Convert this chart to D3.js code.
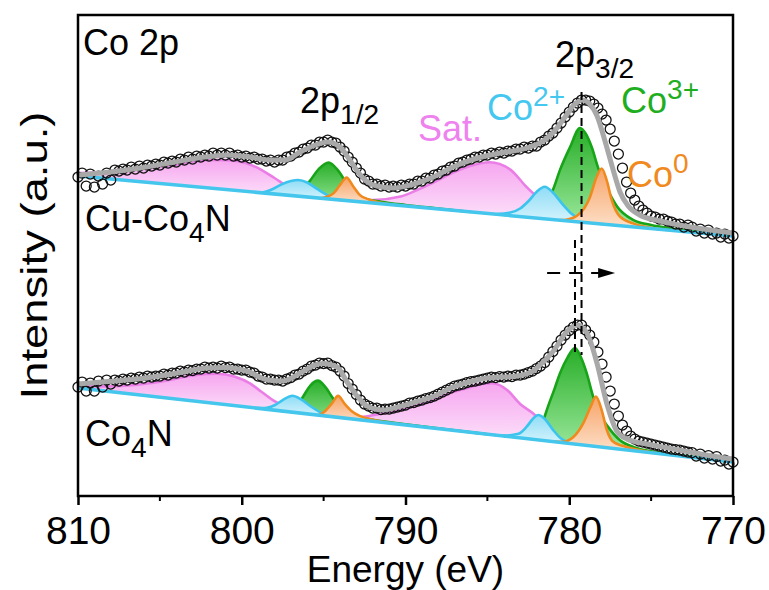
<!DOCTYPE html>
<html>
<head>
<meta charset="utf-8">
<script src="https://cdn.jsdelivr.net/npm/d3@7/dist/d3.min.js"></script>
<style>
  body { margin: 0; background: #fff; }
  text { font-family: "Liberation Sans", Arial, sans-serif; }
</style>
</head>
<body>
<div id="viz"></div>
<script>
const margin = {top: 15, right: 36, bottom: 94, left: 78};
const width = 769;
const height = 590;
const fontSize = 36;

// x axis
const energyDomain = [810, 770];
const majorTicks = [810, 800, 790, 780, 770];
const minorTicks = [805, 795, 785, 775];

// measured points, one every 0.25 eV from 810 down to 770
const energies = d3.range(810, 769.9, -0.25);
const cuData = [
  31.9, 32.3, 31.0, 32.2, 30.9, 32.0, 31.2, 32.3, 31.6, 32.6,
  32.5, 32.7, 32.6, 32.9, 32.7, 33.0, 32.8, 33.1, 33.0, 33.2,
  33.1, 33.4, 33.3, 33.5, 33.4, 33.7, 33.6, 33.9, 33.7, 34.0,
  33.9, 34.1, 34.0, 34.3, 34.1, 34.3, 34.1, 34.3, 34.0, 34.1,
  33.9, 34.0, 33.8, 33.9, 33.7, 33.7, 33.5, 33.6, 33.4, 33.6,
  33.6, 33.9, 34.0, 34.3, 34.4, 34.7, 34.8, 35.1, 35.1, 35.4,
  35.4, 35.6, 35.4, 35.3, 34.9, 34.5, 33.9, 33.4, 32.8, 32.3,
  31.7, 31.5, 31.2, 31.2, 31.0, 31.1, 30.9, 31.0, 30.9, 31.1,
  31.0, 31.2, 31.2, 31.5, 31.5, 31.8, 31.8, 32.1, 32.2, 32.5,
  32.6, 32.9, 33.0, 33.3, 33.4, 33.6, 33.7, 33.9, 33.9, 34.1,
  34.1, 34.3, 34.2, 34.4, 34.3, 34.5, 34.5, 34.7, 34.7, 34.9,
  34.8, 35.0, 35.0, 35.4, 35.6, 36.0, 36.3, 36.8, 37.3, 37.9,
  38.4, 38.9, 39.3, 39.6, 39.6, 39.5, 39.2, 38.8, 38.2, 37.6,
  36.7, 35.5, 34.2, 32.8, 31.4, 30.3, 29.6, 29.0, 28.6, 28.3,
  28.0, 27.9, 27.7, 27.7, 27.5, 27.4, 27.2, 27.2, 26.9, 27.1,
  26.9, 26.5, 26.7, 26.3, 26.6, 26.2, 26.3, 25.9, 26.2, 25.8,
  26.0];
const co4nData = [
  10.9, 11.4, 10.5, 11.3, 10.5, 11.5, 10.9, 11.6, 11.2, 11.6,
  11.5, 11.7, 11.6, 11.8, 11.7, 11.9, 11.8, 12.0, 11.9, 12.0,
  12.0, 12.2, 12.1, 12.3, 12.3, 12.5, 12.4, 12.6, 12.55, 12.7,
  12.7, 12.9, 12.8, 12.9, 12.8, 13.0, 12.85, 12.9, 12.7, 12.7,
  12.6, 12.6, 12.4, 12.3, 12.0, 11.9, 11.7, 11.7, 11.6, 11.6,
  11.5, 11.7, 11.85, 12.1, 12.2, 12.5, 12.7, 13.0, 13.1, 13.3,
  13.25, 13.3, 13.05, 12.9, 12.5, 12.0, 11.25, 10.7, 10.15, 9.6,
  9.2, 9.0, 8.8, 8.8, 8.65, 8.7, 8.7, 8.8, 8.9, 9.0,
  9.1, 9.3, 9.35, 9.5, 9.6, 9.75, 9.85, 10.0, 10.2, 10.4,
  10.6, 10.8, 11.0, 11.1, 11.2, 11.35, 11.45, 11.5, 11.6, 11.7,
  11.8, 11.9, 11.85, 11.95, 11.9, 12.0, 11.95, 12.1, 12.1, 12.2,
  12.35, 12.5, 12.75, 13.0, 13.35, 13.9, 14.45, 15.0, 15.6, 16.1,
  16.55, 16.9, 17.1, 17.1, 16.6, 16.1, 15.4, 14.4, 13.2, 11.9,
  10.5, 9.2, 8.0, 7.1, 6.5, 6.0, 5.7, 5.5, 5.4, 5.3,
  5.2, 5.1, 5.0, 4.9, 4.8, 4.7, 4.65, 4.6, 4.5, 4.4,
  4.35, 4.0, 4.2, 3.8, 4.05, 3.7, 3.95, 3.5, 3.6, 3.2,
  3.4];

// fitted envelopes [eV, a.u.]
const cuFit = [[810, 32.1], [808.05, 32.4], [806.2, 32.8], [804.1, 33.4], [802.25, 33.9],
  [800.85, 34.1], [799.5, 33.9], [798.3, 33.6], [797.35, 33.6], [796.45, 34.4],
  [795.5, 35.1], [794.75, 35.4], [794.0, 34.9], [793.4, 33.6], [792.9, 32.4],
  [792.4, 31.5], [791.75, 31.0], [790.75, 30.8], [789.7, 31.1], [788.3, 31.9],
  [787.1, 32.9], [785.6, 33.8], [784.2, 34.3], [782.6, 34.8], [781.5, 35.6],
  [780.9, 36.5], [780.3, 37.8], [779.65, 39.2], [779.2, 39.6], [778.75, 39.2],
  [778.3, 38.0], [777.8, 35.4], [777.3, 32.5], [776.9, 30.4], [776.4, 29.0],
  [775.7, 28.1], [774.45, 27.5], [772.6, 26.9], [770, 26.3]];
const co4nFit = [[810, 11.2], [808.17, 11.45], [806.09, 11.75], [804.08, 12.25], [802.06, 12.8],
  [801.02, 12.85], [799.62, 12.45], [798.4, 11.6], [797.54, 11.5], [796.32, 12.4],
  [795.53, 13.1], [795.04, 13.25], [794.18, 12.9], [793.57, 11.4], [792.96, 10.0],
  [792.35, 9.0], [791.37, 8.6], [790.34, 8.95], [789.3, 9.45], [788.32, 9.93],
  [787.28, 10.77], [786.24, 11.35], [785.02, 11.8], [783.19, 12.0], [782.21, 12.5],
  [781.79, 13.1], [780.99, 14.45], [780.14, 16.45], [779.53, 17.1], [778.92, 16.3],
  [778.31, 13.3], [777.7, 9.2], [777.1, 6.5], [776.49, 5.7], [775.27, 5.2],
  [773.85, 4.77], [771.83, 4.15], [770, 3.7]];

// backgrounds (end points, a.u.)
const cuBackground = [[810, 32.0], [770, 26.0]];
const co4nBackground = [[810, 10.8], [770, 3.4]];

// fitted components, height above background [eV, a.u.]
const cuSat1 = [[810, 0.3], [808.2, 0.7], [806.2, 1.4], [804.1, 2.0], [802.1, 2.8], [800.9, 2.95],
  [799.8, 2.85], [798.8, 2.3], [798.0, 1.6], [797.1, 0.8], [796.1, 0.3], [795.0, 0.1], [794.0, 0]];
const cuCo2p1 = [[798.8, 0], [798.2, 0.4], [797.6, 1.0], [797.0, 1.45], [796.55, 1.62], [796.0, 1.45],
  [795.4, 0.9], [794.8, 0.4], [794.2, 0.12], [793.5, 0]];
const cuCo3p1 = [[797.2, 0], [796.4, 0.6], [795.9, 1.5], [795.3, 2.9], [794.7, 3.65], [794.1, 2.9],
  [793.5, 1.5], [793.0, 0.7], [792.4, 0.35], [791.5, 0.2], [790, 0.1], [788, 0.05], [786, 0]];
const cuCo0p1 = [[795.2, 0], [794.8, 0.2], [794.4, 0.6], [794.0, 1.5], [793.6, 2.3], [793.2, 1.5],
  [792.8, 0.7], [792.2, 0.3], [791.5, 0.1], [790.5, 0]];
const cuSat3 = [[794.0, 0], [792.0, 0.3], [790.3, 0.9], [789.3, 1.7], [788.3, 2.6], [787.2, 3.7],
  [786.2, 4.5], [784.85, 5.15], [783.6, 4.6], [782.6, 3.0], [781.7, 1.8], [780.8, 0.9],
  [779.8, 0.3], [778.8, 0.05], [778, 0]];
const cuCo2p3 = [[784.5, 0], [783.6, 0.3], [783.0, 0.8], [782.5, 1.6], [782.0, 2.6], [781.5, 3.2],
  [781.0, 2.7], [780.4, 1.6], [779.9, 0.8], [779.4, 0.35], [778.8, 0.1], [778, 0]];
const cuCo3p3 = [[784.0, 0], [782.5, 0.4], [782.0, 0.8], [781.5, 1.7], [781.0, 2.95], [780.57, 5.0],
  [779.95, 7.4], [779.34, 9.4], [779.0, 8.9], [778.63, 7.6], [778.24, 5.6], [777.6, 3.3],
  [777.08, 1.9], [776.1, 0.7], [775, 0.35], [773.85, 0.2], [772, 0.14], [770, 0.1]];
const cuCo0p3 = [[780.6, 0], [780.2, 0.1], [779.45, 0.7], [778.73, 2.6], [778.32, 4.7], [778.02, 5.55],
  [777.71, 4.4], [777.41, 2.5], [776.9, 0.9], [776.1, 0.35], [774.9, 0.05], [774, 0]];

const co4nSat1 = [[810, 0.2], [808.2, 0.5], [806.4, 1.0], [805.1, 1.5], [804.1, 2.0], [802.9, 2.6],
  [801.5, 3.0], [800.4, 2.9], [799.5, 2.4], [798.8, 1.7], [798.0, 0.9], [797.1, 0.35], [796.1, 0.1], [794.5, 0]];
const co4nCo2p1 = [[799.2, 0], [798.6, 0.1], [798.0, 0.5], [797.5, 1.1], [796.9, 1.65], [796.4, 1.4],
  [795.8, 0.8], [795.2, 0.3], [794.6, 0.05], [794, 0]];
const co4nCo3p1 = [[797.6, 0], [797.2, 0.05], [796.7, 0.5], [796.25, 1.7], [795.8, 2.9], [795.35, 3.45],
  [794.9, 2.9], [794.45, 1.9], [794.0, 1.0], [793.5, 0.5], [793, 0.3], [792, 0.15], [790, 0.08], [787, 0.03], [785, 0]];
const co4nCo0p1 = [[795.3, 0], [794.9, 0.5], [794.5, 1.3], [794.12, 2.15], [793.7, 1.4], [793.3, 0.8],
  [792.8, 0.4], [792.2, 0.2], [791.5, 0.08], [790.5, 0]];
const co4nSat3 = [[794.0, 0], [792.6, 0.35], [791.4, 0.9], [790.3, 1.45], [789.3, 2.1], [788.3, 2.8],
  [787.3, 3.7], [786.2, 4.4], [785.3, 5.0], [784.7, 5.15], [783.8, 4.65], [783.0, 3.4], [782.2, 2.6],
  [781.4, 1.5], [780.6, 0.7], [779.8, 0.25], [779, 0.05], [778.2, 0]];
const co4nCo2p3 = [[784.6, 0], [784.0, 0.05], [783.1, 0.4], [782.6, 1.2], [782.2, 2.1], [781.9, 2.5],
  [781.5, 2.2], [781.0, 1.2], [780.5, 0.4], [780.0, 0.1], [779.3, 0]];
const co4nCo3p3 = [[784, 0], [783.0, 0.1], [782.2, 0.5], [781.7, 1.5], [781.3, 3.45], [780.9, 5.3],
  [780.57, 6.9], [780.1, 8.6], [779.65, 9.6], [779.3, 8.8], [778.93, 7.2], [778.55, 5.0], [778.1, 3.2],
  [777.63, 2.1], [776.9, 0.9], [776.0, 0.35], [774.9, 0.13], [772, 0.08], [770, 0.05]];
const co4nCo0p3 = [[781, 0], [780.4, 0.1], [779.75, 0.7], [779.14, 2.2], [778.7, 3.9], [778.37, 5.0],
  [778.02, 3.7], [777.71, 1.8], [777.33, 0.7], [776.5, 0.3], [775.5, 0.1], [774.5, 0]];

// 2p3/2 peak positions (eV) and the intensity span of the guide lines
const peakCu = 779.25;
const peakCo4n = 779.65;
const guideCu = [40.4, 14.1];
const guideCo4n = [25.6, 14.1];
const shiftArrow = {from: 781.35, to: 777.2, level: 22.3};

const colors = {
  sat: {line: '#ea7ee6', top: '#f6a6ef', bottom: '#fde6fb'},
  co2: {line: '#3cc4ee', top: '#8fdcf6', bottom: '#d9f5fd'},
  co3: {line: '#18a418', top: '#28ae28', bottom: '#a9efa9'},
  co0: {line: '#f08a1e', top: '#f7a468', bottom: '#fde2cc'}
};

const svg = d3.select('#viz')
  .append('svg')
  .attr('width', width)
  .attr('height', height)
  .attr('viewBox', [0, 0, width, height]);

const x = d3.scaleLinear()
  .domain(energyDomain)
  .range([margin.left, width - margin.right]);

const y = d3.scaleLinear()
  .domain([0, 48.1])
  .range([height - margin.bottom, margin.top]);

// gradients for the component fills
const defs = svg.append('defs');
Object.entries(colors).forEach(([key, c]) => {
  const g = defs.append('linearGradient')
    .attr('id', 'grad-' + key)
    .attr('x1', 0).attr('y1', 0).attr('x2', 0).attr('y2', 1);
  g.append('stop').attr('offset', '0%').attr('stop-color', c.top);
  g.append('stop').attr('offset', '100%').attr('stop-color', c.bottom);
});

const drawSpectrum = (background, comps, fit, data) => {
  const bg = d3.scaleLinear()
    .domain(background.map(d => d[0]))
    .range(background.map(d => d[1]));

  comps.forEach(([pts, key]) => {
    const area = d3.area()
      .x(d => x(d[0]))
      .y0(d => y(bg(d[0])))
      .y1(d => y(bg(d[0]) + d[1]))
      .curve(d3.curveMonotoneX);
    const line = d3.line()
      .x(d => x(d[0]))
      .y(d => y(bg(d[0]) + d[1]))
      .curve(d3.curveMonotoneX);
    svg.append('path')
      .attr('d', area(pts))
      .attr('fill', `url(#grad-${key})`);
    svg.append('path')
      .attr('d', line(pts))
      .attr('fill', 'none')
      .attr('stroke', colors[key].line)
      .attr('stroke-width', 2.6);
  });

  // background line
  svg.append('path')
    .attr('d', d3.line().x(d => x(d[0])).y(d => y(d[1]))(background))
    .attr('stroke', '#45c6ec')
    .attr('stroke-width', 3.5)
    .attr('fill', 'none');

  // raw data
  svg.append('g')
    .selectAll('circle')
    .data(data)
    .join('circle')
      .attr('cx', (d, i) => x(energies[i]))
      .attr('cy', d => y(d))
      .attr('r', 5)
      .attr('fill', 'none')
      .attr('stroke', '#111')
      .attr('stroke-width', 1.25);

  // envelope
  svg.append('path')
    .attr('d', d3.line().x(d => x(d[0])).y(d => y(d[1])).curve(d3.curveMonotoneX)(fit))
    .attr('fill', 'none')
    .attr('stroke', '#a8a8a8')
    .attr('stroke-width', 5);
};

drawSpectrum(cuBackground,
  [[cuSat1, 'sat'], [cuSat3, 'sat'], [cuCo3p1, 'co3'], [cuCo3p3, 'co3'],
   [cuCo2p1, 'co2'], [cuCo2p3, 'co2'], [cuCo0p1, 'co0'], [cuCo0p3, 'co0']],
  cuFit, cuData);
drawSpectrum(co4nBackground,
  [[co4nSat1, 'sat'], [co4nSat3, 'sat'], [co4nCo3p1, 'co3'], [co4nCo3p3, 'co3'],
   [co4nCo2p1, 'co2'], [co4nCo2p3, 'co2'], [co4nCo0p1, 'co0'], [co4nCo0p3, 'co0']],
  co4nFit, co4nData);

// guide lines
[[peakCu, guideCu], [peakCo4n, guideCo4n]].forEach(([e, span]) => {
  svg.append('line')
    .attr('x1', x(e)).attr('x2', x(e))
    .attr('y1', y(span[0])).attr('y2', y(span[1]))
    .attr('stroke', '#000')
    .attr('stroke-width', 2)
    .attr('stroke-dasharray', '8,5');
});
svg.append('line')
  .attr('x1', x(shiftArrow.from)).attr('x2', x(shiftArrow.to) - 14)
  .attr('y1', y(shiftArrow.level)).attr('y2', y(shiftArrow.level))
  .attr('stroke', '#000')
  .attr('stroke-width', 2)
  .attr('stroke-dasharray', '13,9');
svg.append('path')
  .attr('d', `M${x(shiftArrow.to)},${y(shiftArrow.level)} l-17,-5 l0,10 z`)
  .attr('fill', '#000');

// frame and axis
svg.append('rect')
  .attr('x', margin.left).attr('y', margin.top)
  .attr('width', width - margin.left - margin.right)
  .attr('height', height - margin.top - margin.bottom)
  .attr('fill', 'none')
  .attr('stroke', '#000')
  .attr('stroke-width', 2.5);

const axis = svg.append('g')
  .attr('transform', `translate(0, ${height - margin.bottom})`);
axis.selectAll('.minor')
  .data(minorTicks)
  .join('line')
    .attr('x1', d => x(d)).attr('x2', d => x(d))
    .attr('y1', 0).attr('y2', 5)
    .attr('stroke', '#000').attr('stroke-width', 2);
axis.call(d3.axisBottom(x)
    .tickValues(majorTicks)
    .tickSize(9)
    .tickFormat(d3.format('d')))
  .call(g => g.select('.domain').remove())
  .call(g => g.selectAll('.tick line').attr('stroke-width', 2.5))
  .call(g => g.selectAll('.tick text')
    .attr('font-size', 39)
    .attr('font-family', '"Liberation Sans", Arial, sans-serif')
    .attr('fill', '#000')
    .attr('dy', '0.93em'));

svg.append('text')
  .attr('x', (margin.left + width - margin.right) / 2)
  .attr('y', 582)
  .attr('text-anchor', 'middle')
  .attr('font-size', 37)
  .text('Energy (eV)');

svg.append('text')
  .attr('transform', `translate(47, ${(margin.top + height - margin.bottom) / 2}) rotate(-90)`)
  .attr('text-anchor', 'middle')
  .attr('font-size', 37)
  .attr('textLength', 288)
  .attr('lengthAdjust', 'spacingAndGlyphs')
  .text('Intensity (a.u.)');

// labels with sub/superscripts
const addLabel = (px, py, parts, color) => {
  const t = svg.append('text')
    .attr('x', px).attr('y', py)
    .attr('fill', color)
    .attr('font-size', fontSize);
  let shift = 0;
  parts.forEach(([str, kind]) => {
    const target = kind === 'sub' ? fontSize * 0.3 : kind === 'sup' ? -fontSize * 0.4 : 0;
    t.append('tspan')
      .attr('dy', target - shift)
      .attr('font-size', kind ? fontSize * 0.78 : fontSize)
      .text(str);
    shift = target;
  });
};

addLabel(83, 55, [['Co 2p']], '#000');
addLabel(85, 231, [['Cu-Co'], ['4', 'sub'], ['N']], '#000');
addLabel(85, 446, [['Co'], ['4', 'sub'], ['N']], '#000');
addLabel(300, 113, [['2p'], ['1/2', 'sub']], '#000');
addLabel(555, 67, [['2p'], ['3/2', 'sub']], '#000');
addLabel(418, 141, [['Sat.']], '#ee82ee');
addLabel(487, 120, [['Co'], ['2+', 'sup']], '#45c8f0');
addLabel(621, 113, [['Co'], ['3+', 'sup']], '#1fae1f');
addLabel(627, 187, [['Co'], ['0', 'sup']], '#f08a1e');
</script>
</body>
</html>
